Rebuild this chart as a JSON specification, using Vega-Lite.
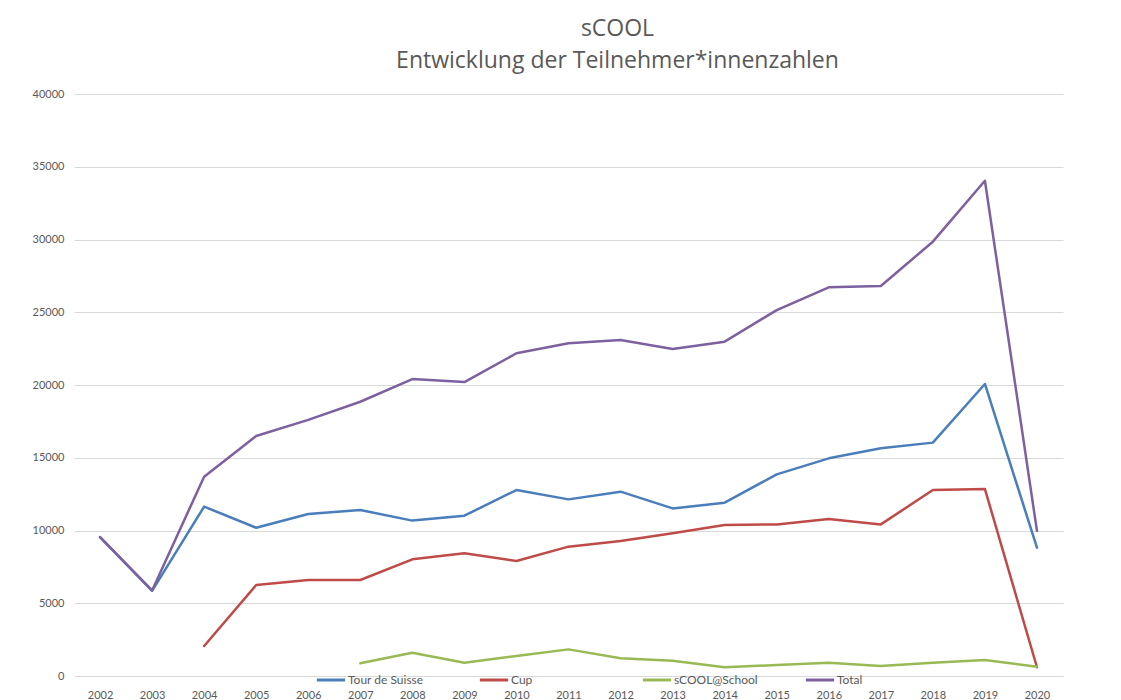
{
  "$schema": "https://vega.github.io/schema/vega-lite/v6.json",
  "autosize": "none",
  "width": 989,
  "height": 582,
  "padding": {"left": 74, "top": 94, "right": 58, "bottom": 24},
  "background": "white",
  "title": {
    "text": ["sCOOL", "Entwicklung der Teilnehmer*innenzahlen"],
    "anchor": "middle",
    "dx": 49,
    "offset": 15,
    "font": "Open Sans",
    "fontSize": 23,
    "fontWeight": "normal",
    "color": "#595959",
    "lineHeight": 32
  },
  "data": {
    "values": [
      {"year": "2002", "series": "Tour de Suisse", "value": 9550},
      {"year": "2003", "series": "Tour de Suisse", "value": 5850},
      {"year": "2004", "series": "Tour de Suisse", "value": 11640},
      {"year": "2005", "series": "Tour de Suisse", "value": 10190},
      {"year": "2006", "series": "Tour de Suisse", "value": 11130},
      {"year": "2007", "series": "Tour de Suisse", "value": 11410},
      {"year": "2008", "series": "Tour de Suisse", "value": 10680},
      {"year": "2009", "series": "Tour de Suisse", "value": 11020},
      {"year": "2010", "series": "Tour de Suisse", "value": 12780},
      {"year": "2011", "series": "Tour de Suisse", "value": 12140},
      {"year": "2012", "series": "Tour de Suisse", "value": 12670},
      {"year": "2013", "series": "Tour de Suisse", "value": 11520},
      {"year": "2014", "series": "Tour de Suisse", "value": 11910},
      {"year": "2015", "series": "Tour de Suisse", "value": 13860},
      {"year": "2016", "series": "Tour de Suisse", "value": 14960},
      {"year": "2017", "series": "Tour de Suisse", "value": 15650},
      {"year": "2018", "series": "Tour de Suisse", "value": 16040},
      {"year": "2019", "series": "Tour de Suisse", "value": 20070},
      {"year": "2020", "series": "Tour de Suisse", "value": 8820},
      {"year": "2004", "series": "Cup", "value": 2060},
      {"year": "2005", "series": "Cup", "value": 6250},
      {"year": "2006", "series": "Cup", "value": 6600},
      {"year": "2007", "series": "Cup", "value": 6600},
      {"year": "2008", "series": "Cup", "value": 8020},
      {"year": "2009", "series": "Cup", "value": 8430},
      {"year": "2010", "series": "Cup", "value": 7900},
      {"year": "2011", "series": "Cup", "value": 8890},
      {"year": "2012", "series": "Cup", "value": 9280},
      {"year": "2013", "series": "Cup", "value": 9810},
      {"year": "2014", "series": "Cup", "value": 10380},
      {"year": "2015", "series": "Cup", "value": 10420},
      {"year": "2016", "series": "Cup", "value": 10790},
      {"year": "2017", "series": "Cup", "value": 10420},
      {"year": "2018", "series": "Cup", "value": 12780},
      {"year": "2019", "series": "Cup", "value": 12850},
      {"year": "2020", "series": "Cup", "value": 600},
      {"year": "2007", "series": "sCOOL@School", "value": 870},
      {"year": "2008", "series": "sCOOL@School", "value": 1600},
      {"year": "2009", "series": "sCOOL@School", "value": 915},
      {"year": "2010", "series": "sCOOL@School", "value": 1375},
      {"year": "2011", "series": "sCOOL@School", "value": 1830},
      {"year": "2012", "series": "sCOOL@School", "value": 1215},
      {"year": "2013", "series": "sCOOL@School", "value": 1055},
      {"year": "2014", "series": "sCOOL@School", "value": 595},
      {"year": "2015", "series": "sCOOL@School", "value": 756},
      {"year": "2016", "series": "sCOOL@School", "value": 915},
      {"year": "2017", "series": "sCOOL@School", "value": 690},
      {"year": "2018", "series": "sCOOL@School", "value": 915},
      {"year": "2019", "series": "sCOOL@School", "value": 1100},
      {"year": "2020", "series": "sCOOL@School", "value": 640},
      {"year": "2002", "series": "Total", "value": 9550},
      {"year": "2003", "series": "Total", "value": 5880},
      {"year": "2004", "series": "Total", "value": 13700},
      {"year": "2005", "series": "Total", "value": 16495},
      {"year": "2006", "series": "Total", "value": 17600},
      {"year": "2007", "series": "Total", "value": 18850},
      {"year": "2008", "series": "Total", "value": 20410},
      {"year": "2009", "series": "Total", "value": 20200},
      {"year": "2010", "series": "Total", "value": 22180},
      {"year": "2011", "series": "Total", "value": 22870},
      {"year": "2012", "series": "Total", "value": 23090},
      {"year": "2013", "series": "Total", "value": 22470},
      {"year": "2014", "series": "Total", "value": 22980},
      {"year": "2015", "series": "Total", "value": 25150},
      {"year": "2016", "series": "Total", "value": 26710},
      {"year": "2017", "series": "Total", "value": 26800},
      {"year": "2018", "series": "Total", "value": 29850},
      {"year": "2019", "series": "Total", "value": 34040},
      {"year": "2020", "series": "Total", "value": 9970}
    ]
  },
  "mark": {"type": "line", "strokeWidth": 2.5, "strokeCap": "round", "strokeJoin": "round"},
  "encoding": {
    "x": {
      "field": "year",
      "type": "ordinal",
      "scale": {"type": "point", "padding": 0.5},
      "axis": {
        "title": null,
        "grid": false,
        "domain": false,
        "ticks": false,
        "labelAngle": 0,
        "labelPadding": 13,
        "labelFont": "Lato",
        "labelFontSize": 11,
        "labelColor": "#595959"
      }
    },
    "y": {
      "field": "value",
      "type": "quantitative",
      "scale": {"domain": [0, 40000], "nice": false},
      "axis": {
        "title": null,
        "values": [0, 5000, 10000, 15000, 20000, 25000, 30000, 35000, 40000],
        "format": "d",
        "domain": false,
        "ticks": false,
        "labelPadding": 10,
        "labelFont": "Lato",
        "labelFontSize": 11,
        "labelColor": "#595959",
        "gridColor": "#d9d9d9",
        "gridWidth": 1
      }
    },
    "color": {
      "field": "series",
      "type": "nominal",
      "scale": {
        "domain": ["Tour de Suisse", "Cup", "sCOOL@School", "Total"],
        "range": ["#4a7ebb", "#be4b48", "#98b954", "#7d60a0"]
      },
      "legend": {
        "title": null,
        "orient": "none",
        "direction": "horizontal",
        "columns": 4,
        "gridAlign": "all",
        "columnPadding": 41,
        "legendX": 241,
        "legendY": 570,
        "symbolType": "stroke",
        "symbolSize": 800,
        "symbolStrokeWidth": 3,
        "labelOffset": 1,
        "labelFont": "Lato",
        "labelFontSize": 12,
        "labelColor": "#595959"
      }
    },
    "order": {"field": "year"}
  },
  "config": {
    "view": {"stroke": null}
  }
}
